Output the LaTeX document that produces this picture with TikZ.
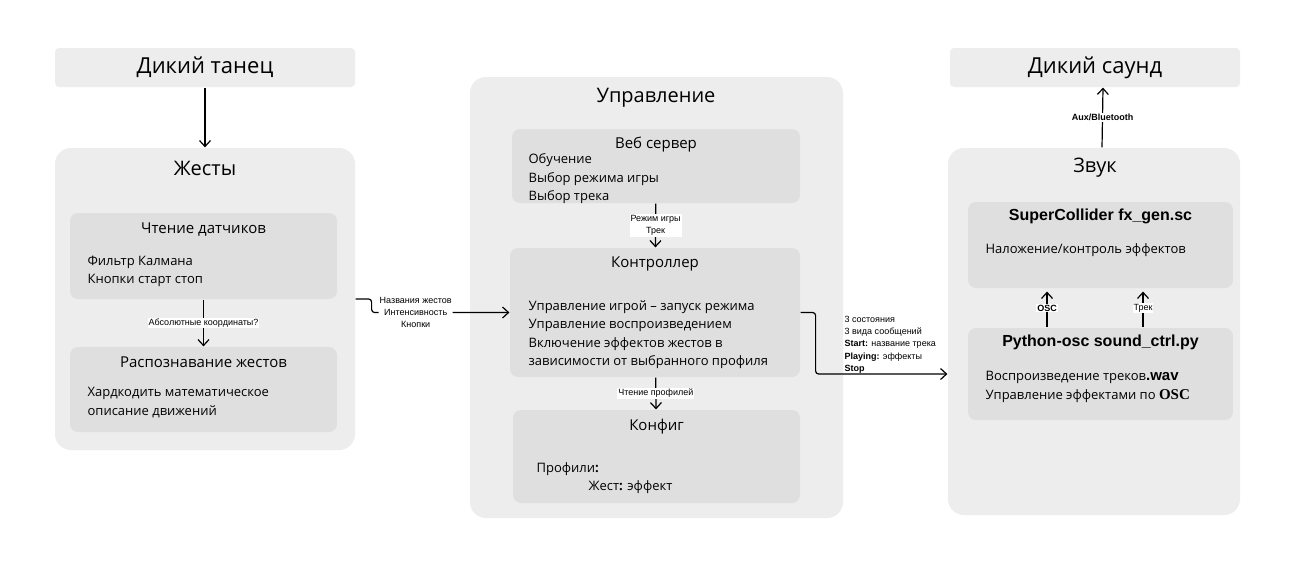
\documentclass[tikz,border=0pt]{standalone}
\usepackage{fontspec}
\setmainfont{Open Sans}
\newfontfamily\lblfont{Liberation Sans}
\newfontfamily\oscfont{Liberation Serif}
\usetikzlibrary{arrows.meta,positioning}
\definecolor{outergray}{RGB}{237,237,237}
\definecolor{innergray}{RGB}{223,223,223}

\begin{document}
\begin{tikzpicture}[x=1pt, y=-1pt, line width=1.2pt, >={Straight Barb[length=6pt,width=11pt]},
  outer box/.style={fill=outergray, rounded corners=16pt, inner sep=0},
  top box/.style={fill=outergray, rounded corners=4pt, inner sep=0, font=\fontsize{22}{26}\selectfont},
  inner box/.style={fill=innergray, rounded corners=8pt, inner sep=0},
  big title/.style={font=\fontsize{20}{24}\selectfont, inner sep=0},
  box title/.style={font=\fontsize{15}{18}\selectfont, inner sep=0},
  bold title/.style={font=\lblfont\bfseries\fontsize{16}{19}\selectfont, inner sep=0},
  body/.style={font=\fontsize{13}{18.5}\selectfont, align=left, anchor=north west, inner sep=0},
  edge label/.style={font=\lblfont\fontsize{9}{12}\selectfont, fill=white, align=center, inner sep=1pt}]
\useasboundingbox[fill=white] (0,0) rectangle (1292,579);

% left column
\node[top box, minimum width=300, minimum height=39] (dance) at (205,67.5) {Дикий танец};
\node[outer box, minimum width=300, minimum height=302] (gest) at (205,299) {};
\node[big title] (gestt) at (205,168) {Жесты};
\node[inner box, minimum width=267, minimum height=86] (sens) at (203.5,256) {};
\node[box title] (senst) at (203.5,230) {Чтение датчиков};
\node[body] (sensb) at (87,255) {Фильтр Калмана\\Кнопки старт стоп};
\node[inner box, minimum width=267, minimum height=85] (recog) at (203.5,389.5) {};
\node[box title] (recogt) at (203.5,362) {Распознавание жестов};
\node[body] (recogb) at (87,387) {Хардкодить математическое\\описание движений};

% middle column
\node[outer box, minimum width=373, minimum height=441] (mgmt) at (656.5,297.5) {};
\node[big title] (mgmtt) at (656,98) {Управление};
\node[inner box, minimum width=288, minimum height=74] (web) at (656,166) {};
\node[box title] (webt) at (656,145) {Веб сервер};
\node[body] (webb) at (528,153) {Обучение\\Выбор режима игры\\Выбор трека};
\node[inner box, minimum width=290, minimum height=129] (ctrl) at (655,312.5) {};
\node[box title] (ctrlt) at (655,264) {Контроллер};
\node[body] (ctrlb) at (528,300) {Управление игрой -- запуск режима\\Управление воспроизведением\\Включение эффектов жестов в\\зависимости от выбранного профиля};
\node[inner box, minimum width=287, minimum height=93] (conf) at (656.5,456.5) {};
\node[box title] (conft) at (656.5,427) {Конфиг};
\node[body] (confb) at (536,462) {Профили\textbf{:}\\\hspace*{52pt}Жест\textbf{:} эффект};

% right column
\node[top box, minimum width=290, minimum height=39] (dsound) at (1095,67.5) {Дикий саунд};
\node[outer box, minimum width=292, minimum height=367] (sound) at (1094,331.5) {};
\node[big title] (soundt) at (1095,168) {Звук};
\node[inner box, minimum width=265, minimum height=86] (sc) at (1100.5,245) {};
\node[bold title] (sct) at (1100.5,216) {SuperCollider fx\_gen.sc};
\node[body] (scb) at (985,243) {Наложение/контроль эффектов};
\node[inner box, minimum width=265, minimum height=92] (py) at (1100.5,374) {};
\node[bold title] (pyt) at (1100.5,342) {Python-osc sound\_ctrl.py};
\node[body] (pyb) at (985,371) {Воспроизведение треков{\lblfont\bfseries\fontsize{15}{18}\selectfont.wav}\\Управление эффектами по {\oscfont\bfseries\fontsize{15}{18}\selectfont OSC}};

\path[->]
(dance) edge (gest)
(sens) edge node[edge label] (absl) {Абсолютные координаты?} (recog)
(web) edge node[edge label] (model) {Режим игры\\Трек} (ctrl)
(ctrl) edge node[edge label] (profl) {Чтение профилей} (conf)
([xshift=-53.5]py.north) edge[shorten >=3pt] node[edge label, font=\lblfont\bfseries\fontsize{9}{12}\selectfont] (oscl) {OSC} ([xshift=-53.5]sc.south)
([xshift=42.5]py.north) edge[shorten >=3pt] node[edge label] (trackl) {Трек} ([xshift=42.5]sc.south)
([xshift=8]sound.north) edge node[edge label, font=\lblfont\bfseries\fontsize{9}{12}\selectfont] (auxl) {Aux/Bluetooth} ([xshift=8]dsound.south);

\draw[->, rounded corners=3pt] (gest.east) -- ++(16,0) |- node[edge label, pos=0.66] (gestl) {Названия жестов\\Интенсивность\\Кнопки} (ctrl.west);
\draw[->, rounded corners=3pt] (ctrl.east) -- ++(15,0) |- (py.west -| sound.west);
\node[edge label, fill=none, anchor=south west, align=left, font=\lblfont\fontsize{9}{12.3}\selectfont] (msgl) at (843,375)
  {3 состояния\\3 вида сообщений\\\textbf{Start:} название трека\\\textbf{Playing:} эффекты\\\textbf{Stop}};
\end{tikzpicture}
\end{document}
